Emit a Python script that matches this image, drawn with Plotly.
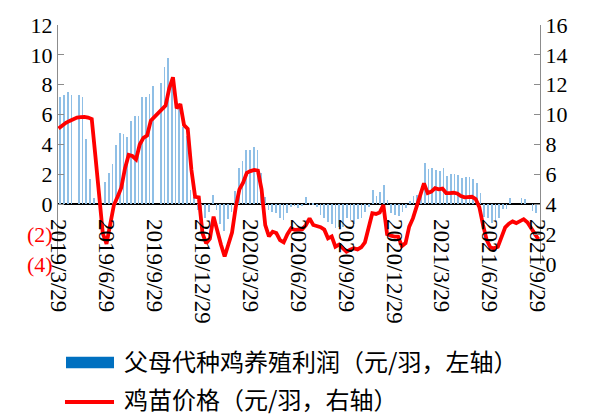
import plotly.graph_objects as go
import pandas as pd

# ---- data ----
profit = [
    7.2, 7.3, 7.5, 7.3, None, 7.3, 7.2, 4.4, 1.7, 0.4,
    None, None, 1.5, 2.1, 2.7, 4.0, 4.8, 4.7, 4.5, 5.6,
    5.9, 5.9, 7.2, 7.2, 7.4, 7.9, None, 8.1, 9.2, 9.8,
    8.4, 7.4, 6.5, 5.2, 4.6, 0.95, 0.5, -0.4, -0.6, -0.9,
    -0.5, 0.65, -0.4, -1.3, -1.8, -1.0, -0.5, 0.9, 2.4, 2.9,
    3.6, 3.6, 3.8, 3.6, 2.1, 0.5, -0.4, -0.5, -0.6, -0.95,
    -1.05, -0.6, -0.2, -0.1, -0.25, -0.15, 0.5, 0.1, 0.1, -0.2,
    -0.7, -0.9, -1.2, -1.3, -1.6, -1.5, -1.5, -0.95, -1.05, -1.3,
    -1.0, -0.9, -0.5, -0.2, 0.95, 0.55, 0.85, 1.3, 0.3, -0.6,
    -0.7, -0.8, -0.5, -0.25, 0.2, 0.55, 0.6, 0.8, 2.75, 2.35,
    2.4, 2.3, 2.2, 2.4, 1.9, 2.0, 2.0, 1.95, 1.75, 1.8,
    1.8, 1.7, 1.4, 0.75, -0.85, -0.9, -1.25, -1.1, -0.9, -0.35,
    -0.3, 0.42, None, None, 0.4, 0.33, None, -0.45, -0.6,
]

chick_price = [
    9.08, 9.3, 9.45, 9.58, 9.7, 9.8, 9.83, 9.85, 9.8, 9.7,
    7.2, 4.7, 2.05, 1.35, 2.8, 3.95, 4.5, 5.1, 6.4, 7.3,
    7.23, 7.0, 8.0, 8.45, 8.6, 9.6, 9.85, 10.1, 10.4, 10.6,
    11.76, 12.5, 10.42, 10.7, 9.3, 9.05, 6.3, 4.5, 4.46, 2.05,
    1.38, 1.7, 3.17, 2.1, 1.3, 0.5, 1.4, 2.1, 3.8, 5.0,
    5.45, 6.1, 6.22, 6.3, 6.25, 5.0, 2.6, 1.85, 2.16, 2.07,
    1.6, 1.45, 2.0, 2.38, 2.28, 2.32, 2.32, 2.6, 3.06, 2.61,
    2.55, 2.46, 2.3, 1.72, 1.85, 1.16, 1.3, 1.1, 0.82, 0.95,
    1.05, 0.98, 1.12, 1.45, 2.5, 3.4, 3.35, 3.45, 3.95, 2.0,
    1.9, 1.83, 1.83, 1.2, 1.4, 2.5, 3.05, 3.8, 4.5, 5.4,
    4.75, 4.85, 5.08, 5.0, 5.05, 4.75, 4.75, 4.77, 4.72, 4.55,
    4.46, 4.47, 4.5, 4.35, 3.8, 2.6, 1.6, 1.1, 1.05, 1.15,
    1.8, 2.45, 2.7, 2.85, 2.74, 2.9, 3.0, 2.8, 2.45, 2.05, 1.65,
]

profit_dates = pd.date_range("2019-04-01 10:00", "2021-09-27", periods=len(profit))
price_dates = pd.date_range("2019-03-29", "2021-10-01", periods=len(chick_price))

x_tick_dates = ["2019-03-29", "2019-06-29", "2019-09-29", "2019-12-29", "2020-03-29",
                "2020-06-29", "2020-09-29", "2020-12-29", "2021-03-29", "2021-06-29",
                "2021-09-29"]
x_tick_text = ["2019/3/29", "2019/6/29", "2019/9/29", "2019/12/29", "2020/3/29",
               "2020/6/29", "2020/9/29", "2020/12/29", "2021/3/29", "2021/6/29",
               "2021/9/29"]

left_tick_vals = [-4, -2, 0, 2, 4, 6, 8, 10, 12]
left_tick_text = ['<span style="color:#FF0000">(4)</span>',
                  '<span style="color:#FF0000">(2)</span>',
                  "0", "2", "4", "6", "8", "10", "12"]
right_tick_vals = [0, 2, 4, 6, 8, 10, 12, 14, 16]

name_profit = "父母代种鸡养殖利润（元/羽，左轴）"
name_price = "鸡苗价格（元/羽，右轴）"

SERIF = '"Times New Roman", "Liberation Serif", "DejaVu Serif", serif'
CJK = '"Noto Sans CJK SC", sans-serif'

fig = go.Figure()
fig.add_trace(go.Bar(
    x=profit_dates, y=profit, name=name_profit,
    marker=dict(color="#8FBFE6", line=dict(width=0)),
    width=1.4 * 86400000, yaxis="y", showlegend=False,
))
fig.add_trace(go.Scatter(
    x=price_dates, y=chick_price, name=name_price, mode="lines",
    line=dict(color="#FF0000", width=3.8), yaxis="y2", showlegend=False,
))

fig.update_layout(
    width=593, height=417,
    margin=dict(l=58, r=53, t=25, b=153),
    paper_bgcolor="white", plot_bgcolor="white",
    showlegend=False,
    bargap=0,
    xaxis=dict(
        type="date", range=["2019-03-28", "2021-10-04"],
        tickvals=x_tick_dates, ticktext=x_tick_text, tickangle=90,
        tickfont=dict(family=SERIF, size=23, color="black"),
        showgrid=False, showline=False, zeroline=False, ticks="",
        anchor="free", position=0.251, ticklabelstandoff=14,
    ),
    yaxis=dict(
        range=[-4, 12], tickvals=left_tick_vals, ticktext=left_tick_text,
        tickfont=dict(family=SERIF, size=22, color="black"),
        showgrid=False, showline=True, linecolor="#8c8c8c", linewidth=1,
        ticks="inside", ticklen=6, tickcolor="#8c8c8c",
        zeroline=True, zerolinecolor="black", zerolinewidth=1.5,
    ),
    yaxis2=dict(
        range=[0, 16], tickvals=right_tick_vals, overlaying="y", side="right",
        tickfont=dict(family=SERIF, size=22, color="black"),
        showgrid=False, showline=True, linecolor="#8c8c8c", linewidth=1,
        ticks="inside", ticklen=6, tickcolor="#8c8c8c", zeroline=False,
    ),
)

# custom legend below the plot
fig.add_shape(type="rect", xref="paper", yref="paper",
              x0=0.0166, x1=0.1162, y0=-0.4364, y1=-0.3879,
              fillcolor="#0070C0", line=dict(width=0))
fig.add_shape(type="line", xref="paper", yref="paper",
              x0=0.0145, x1=0.1162, y0=-0.5774, y1=-0.5774,
              line=dict(color="#FF0000", width=4))
fig.add_annotation(xref="paper", yref="paper", x=0.1328, y=-0.4017,
                   xanchor="left", yanchor="middle", showarrow=False,
                   text=name_profit, font=dict(family=CJK, size=24, color="black"))
fig.add_annotation(xref="paper", yref="paper", x=0.1328, y=-0.5607,
                   xanchor="left", yanchor="middle", showarrow=False,
                   text=name_price, font=dict(family=CJK, size=24, color="black"))

fig.write_html("out.html")
